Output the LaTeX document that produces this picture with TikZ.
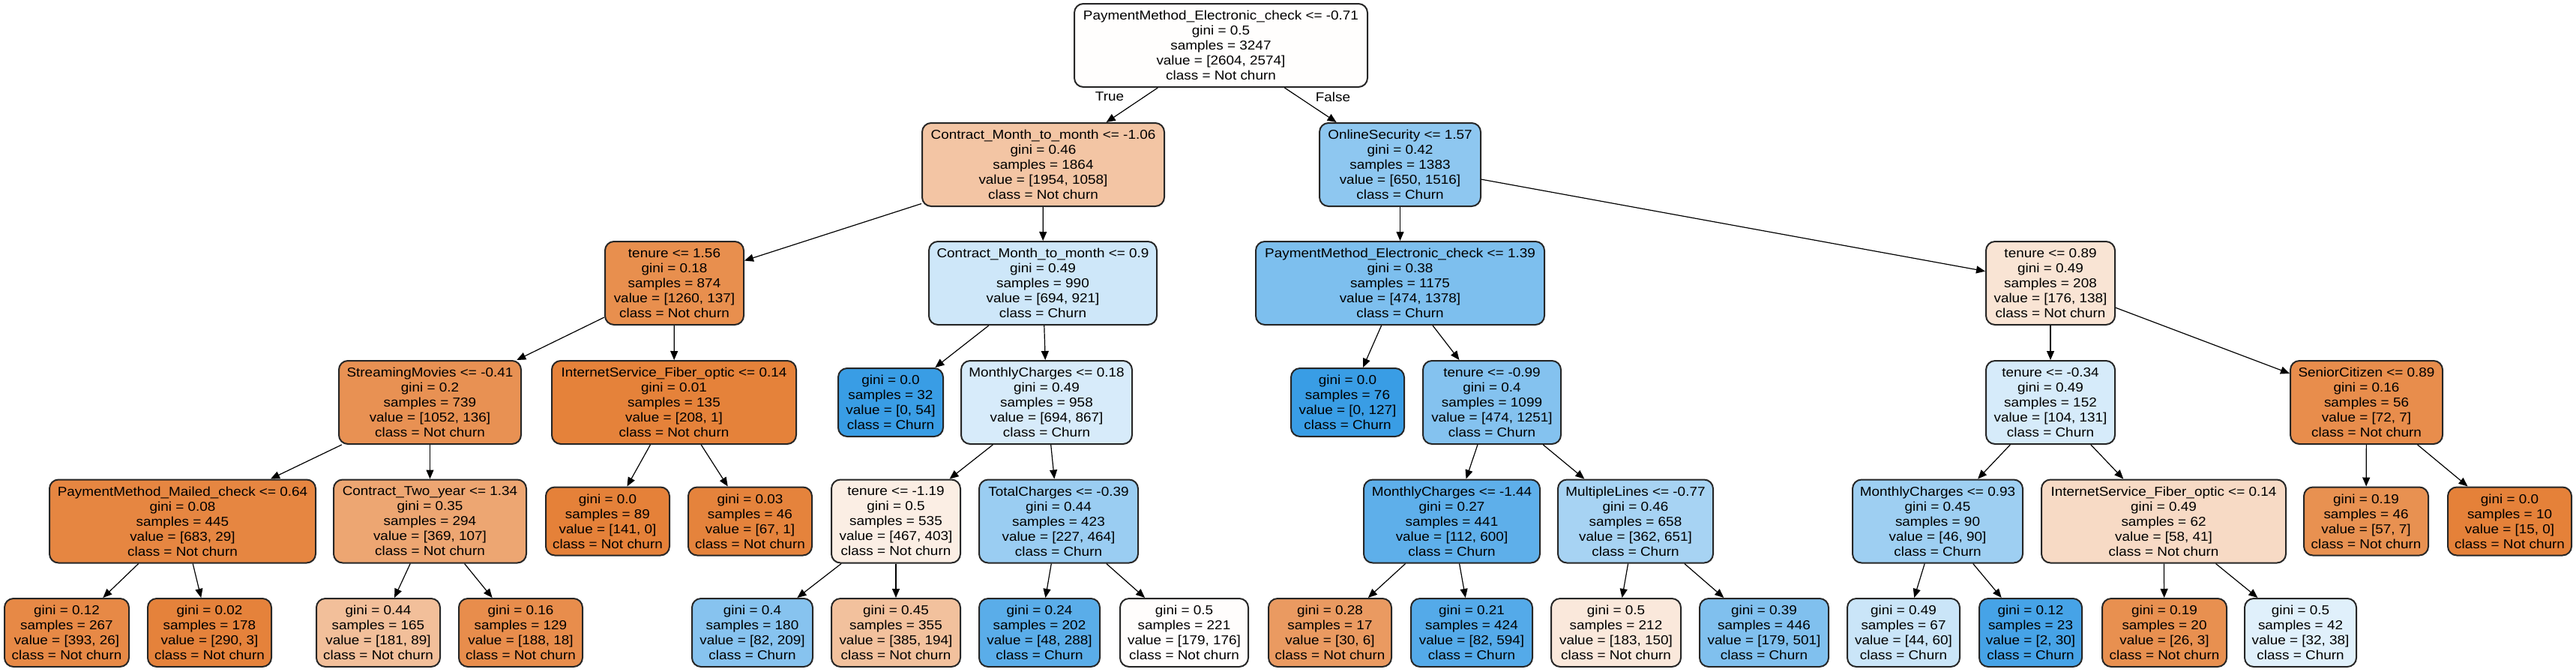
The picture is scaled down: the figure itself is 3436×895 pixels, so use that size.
\documentclass[tikz,border=0pt]{standalone}
\usepackage{fontspec}
\setmainfont{Liberation Sans}[FakeStretch=1.1]
\usetikzlibrary{arrows.meta}
\tikzset{
  tn/.style={draw=black!85, line width=1pt, rounded corners=6pt, inner sep=0pt,
    align=center, minimum height=55.5pt, font=\fontsize{8.6}{10}\selectfont},
  lf/.style={tn, minimum height=45.5pt},
  ed/.style={draw=black, line width=0.6pt, -{Triangle[length=6pt,width=5pt]}},
  lbl/.style={font=\fontsize{8.6}{10}\selectfont, inner sep=0pt}
}
\newcommand{\rgbc}[3]{rgb,255:red,#1;green,#2;blue,#3}
\begin{document}
\begin{tikzpicture}[x=0.5pt,y=-0.5pt]
\useasboundingbox (0,0) rectangle (3436,895);
% root
\node[tn, minimum width=195.5pt, fill={\rgbc{255}{254}{253}}] (n0) at (1628.5,60.5) {PaymentMethod\_Electronic\_check <= -0.71\\gini = 0.5\\samples = 3247\\value = [2604, 2574]\\class = Not churn};
% level 1
\node[tn, minimum width=161.5pt, fill={\rgbc{243}{197}{164}}] (n1) at (1391.5,219.5) {Contract\_Month\_to\_month <= -1.06\\gini = 0.46\\samples = 1864\\value = [1954, 1058]\\class = Not churn};
\node[tn, minimum width=107.5pt, fill={\rgbc{142}{199}{240}}] (n2) at (1867.5,219.5) {OnlineSecurity <= 1.57\\gini = 0.42\\samples = 1383\\value = [650, 1516]\\class = Churn};
% level 2
\node[tn, minimum width=92.5pt, fill={\rgbc{232}{143}{78}}] (n3) at (899.5,377.5) {tenure <= 1.56\\gini = 0.18\\samples = 874\\value = [1260, 137]\\class = Not churn};
\node[tn, minimum width=152pt, fill={\rgbc{206}{231}{249}}] (n4) at (1391,377.5) {Contract\_Month\_to\_month <= 0.9\\gini = 0.49\\samples = 990\\value = [694, 921]\\class = Churn};
\node[tn, minimum width=192.5pt, fill={\rgbc{125}{191}{238}}] (n5) at (1867.5,377.5) {PaymentMethod\_Electronic\_check <= 1.39\\gini = 0.38\\samples = 1175\\value = [474, 1378]\\class = Churn};
\node[tn, minimum width=86pt, fill={\rgbc{249}{228}{212}}] (n6) at (2735,377.5) {tenure <= 0.89\\gini = 0.49\\samples = 208\\value = [176, 138]\\class = Not churn};
% level 3
\node[tn, minimum width=121.5pt, fill={\rgbc{232}{145}{83}}] (n7) at (573.5,536.5) {StreamingMovies <= -0.41\\gini = 0.2\\samples = 739\\value = [1052, 136]\\class = Not churn};
\node[tn, minimum width=163pt, fill={\rgbc{229}{130}{58}}] (n8) at (899,536.5) {InternetService\_Fiber\_optic <= 0.14\\gini = 0.01\\samples = 135\\value = [208, 1]\\class = Not churn};
\node[lf, minimum width=70pt, fill={\rgbc{57}{157}{229}}] (n9) at (1188,536.5) {gini = 0.0\\samples = 32\\value = [0, 54]\\class = Churn};
\node[tn, minimum width=114pt, fill={\rgbc{215}{235}{250}}] (n10) at (1396,536.5) {MonthlyCharges <= 0.18\\gini = 0.49\\samples = 958\\value = [694, 867]\\class = Churn};
\node[lf, minimum width=75.5pt, fill={\rgbc{57}{157}{229}}] (n11) at (1797.5,536.5) {gini = 0.0\\samples = 76\\value = [0, 127]\\class = Churn};
\node[tn, minimum width=92pt, fill={\rgbc{132}{194}{239}}] (n12) at (1990,536.5) {tenure <= -0.99\\gini = 0.4\\samples = 1099\\value = [474, 1251]\\class = Churn};
\node[tn, minimum width=86pt, fill={\rgbc{214}{235}{250}}] (n13) at (2735,536.5) {tenure <= -0.34\\gini = 0.49\\samples = 152\\value = [104, 131]\\class = Churn};
\node[tn, minimum width=101.5pt, fill={\rgbc{232}{141}{76}}] (n14) at (3156.5,536.5) {SeniorCitizen <= 0.89\\gini = 0.16\\samples = 56\\value = [72, 7]\\class = Not churn};
% level 4
\node[tn, minimum width=177.5pt, fill={\rgbc{230}{134}{65}}] (n15) at (243.5,695) {PaymentMethod\_Mailed\_check <= 0.64\\gini = 0.08\\samples = 445\\value = [683, 29]\\class = Not churn};
\node[tn, minimum width=128.5pt, fill={\rgbc{237}{166}{114}}] (n16) at (573.5,695) {Contract\_Two\_year <= 1.34\\gini = 0.35\\samples = 294\\value = [369, 107]\\class = Not churn};
\node[lf, minimum width=82.5pt, fill={\rgbc{229}{129}{57}}] (n17) at (810.5,695) {gini = 0.0\\samples = 89\\value = [141, 0]\\class = Not churn};
\node[lf, minimum width=82.5pt, fill={\rgbc{229}{131}{60}}] (n18) at (1000.5,695) {gini = 0.03\\samples = 46\\value = [67, 1]\\class = Not churn};
\node[tn, minimum width=86pt, fill={\rgbc{251}{238}{228}}] (n19) at (1195,695) {tenure <= -1.19\\gini = 0.5\\samples = 535\\value = [467, 403]\\class = Not churn};
\node[tn, minimum width=106pt, fill={\rgbc{154}{205}{242}}] (n20) at (1412,695) {TotalCharges <= -0.39\\gini = 0.44\\samples = 423\\value = [227, 464]\\class = Churn};
\node[tn, minimum width=117.5pt, fill={\rgbc{94}{175}{234}}] (n21) at (1936.5,695) {MonthlyCharges <= -1.44\\gini = 0.27\\samples = 441\\value = [112, 600]\\class = Churn};
\node[tn, minimum width=103.5pt, fill={\rgbc{167}{211}{243}}] (n22) at (2181.5,695) {MultipleLines <= -0.77\\gini = 0.46\\samples = 658\\value = [362, 651]\\class = Churn};
\node[tn, minimum width=113.5pt, fill={\rgbc{158}{207}{242}}] (n23) at (2584.5,695) {MonthlyCharges <= 0.93\\gini = 0.45\\samples = 90\\value = [46, 90]\\class = Churn};
\node[tn, minimum width=163pt, fill={\rgbc{247}{218}{197}}] (n24) at (2886,695) {InternetService\_Fiber\_optic <= 0.14\\gini = 0.49\\samples = 62\\value = [58, 41]\\class = Not churn};
\node[lf, minimum width=83pt, fill={\rgbc{232}{145}{81}}] (n25) at (3156,695) {gini = 0.19\\samples = 46\\value = [57, 7]\\class = Not churn};
\node[lf, minimum width=82.5pt, fill={\rgbc{229}{129}{57}}] (n26) at (3347.5,695) {gini = 0.0\\samples = 10\\value = [15, 0]\\class = Not churn};
% level 5
\node[lf, minimum width=83pt, fill={\rgbc{231}{137}{70}}] (n27) at (89,843.5) {gini = 0.12\\samples = 267\\value = [393, 26]\\class = Not churn};
\node[lf, minimum width=82.5pt, fill={\rgbc{229}{130}{59}}] (n28) at (279.5,843.5) {gini = 0.02\\samples = 178\\value = [290, 3]\\class = Not churn};
\node[lf, minimum width=82.5pt, fill={\rgbc{242}{191}{154}}] (n29) at (504.5,843.5) {gini = 0.44\\samples = 165\\value = [181, 89]\\class = Not churn};
\node[lf, minimum width=82.5pt, fill={\rgbc{232}{141}{76}}] (n30) at (694.5,843.5) {gini = 0.16\\samples = 129\\value = [188, 18]\\class = Not churn};
\node[lf, minimum width=80.5pt, fill={\rgbc{135}{195}{239}}] (n31) at (1003.5,843.5) {gini = 0.4\\samples = 180\\value = [82, 209]\\class = Churn};
\node[lf, minimum width=86pt, fill={\rgbc{242}{193}{157}}] (n32) at (1195,843.5) {gini = 0.45\\samples = 355\\value = [385, 194]\\class = Not churn};
\node[lf, minimum width=80.5pt, fill={\rgbc{90}{173}{233}}] (n33) at (1386.5,843.5) {gini = 0.24\\samples = 202\\value = [48, 288]\\class = Churn};
\node[lf, minimum width=85.5pt, fill={\rgbc{255}{253}{252}}] (n34) at (1579.5,843.5) {gini = 0.5\\samples = 221\\value = [179, 176]\\class = Not churn};
\node[lf, minimum width=82pt, fill={\rgbc{234}{154}{97}}] (n35) at (1774,843.5) {gini = 0.28\\samples = 17\\value = [30, 6]\\class = Not churn};
\node[lf, minimum width=81pt, fill={\rgbc{84}{170}{233}}] (n36) at (1963,843.5) {gini = 0.21\\samples = 424\\value = [82, 594]\\class = Churn};
\node[lf, minimum width=86.5pt, fill={\rgbc{250}{232}{219}}] (n37) at (2155.5,843.5) {gini = 0.5\\samples = 212\\value = [183, 150]\\class = Not churn};
\node[lf, minimum width=86pt, fill={\rgbc{128}{192}{238}}] (n38) at (2353,843.5) {gini = 0.39\\samples = 446\\value = [179, 501]\\class = Churn};
\node[lf, minimum width=75pt, fill={\rgbc{202}{229}{248}}] (n39) at (2539,843.5) {gini = 0.49\\samples = 67\\value = [44, 60]\\class = Churn};
\node[lf, minimum width=68.5pt, fill={\rgbc{70}{163}{231}}] (n40) at (2708.5,843.5) {gini = 0.12\\samples = 23\\value = [2, 30]\\class = Churn};
\node[lf, minimum width=83pt, fill={\rgbc{232}{144}{80}}] (n41) at (2887,843.5) {gini = 0.19\\samples = 20\\value = [26, 3]\\class = Not churn};
\node[lf, minimum width=74.5pt, fill={\rgbc{224}{240}{251}}] (n42) at (3068.5,843.5) {gini = 0.5\\samples = 42\\value = [32, 38]\\class = Churn};
% edges
\draw[ed] (n0) -- (n1);
\draw[ed] (n0) -- (n2);
\draw[ed] (n1) -- (n3);
\draw[ed] (n1) -- (n4);
\draw[ed] (n2) -- (n5);
\draw[ed] (n2) -- (n6);
\draw[ed] (n3) -- (n7);
\draw[ed] (n3) -- (n8);
\draw[ed] (n4) -- (n9);
\draw[ed] (n4) -- (n10);
\draw[ed] (n5) -- (n11);
\draw[ed] (n5) -- (n12);
\draw[ed] (n6) -- (n13);
\draw[ed] (n6) -- (n14);
\draw[ed] (n7) -- (n15);
\draw[ed] (n7) -- (n16);
\draw[ed] (n8) -- (n17);
\draw[ed] (n8) -- (n18);
\draw[ed] (n10) -- (n19);
\draw[ed] (n10) -- (n20);
\draw[ed] (n12) -- (n21);
\draw[ed] (n12) -- (n22);
\draw[ed] (n13) -- (n23);
\draw[ed] (n13) -- (n24);
\draw[ed] (n14) -- (n25);
\draw[ed] (n14) -- (n26);
\draw[ed] (n15) -- (n27);
\draw[ed] (n15) -- (n28);
\draw[ed] (n16) -- (n29);
\draw[ed] (n16) -- (n30);
\draw[ed] (n19) -- (n31);
\draw[ed] (n19) -- (n32);
\draw[ed] (n20) -- (n33);
\draw[ed] (n20) -- (n34);
\draw[ed] (n21) -- (n35);
\draw[ed] (n21) -- (n36);
\draw[ed] (n22) -- (n37);
\draw[ed] (n22) -- (n38);
\draw[ed] (n23) -- (n39);
\draw[ed] (n23) -- (n40);
\draw[ed] (n24) -- (n41);
\draw[ed] (n24) -- (n42);
% edge labels
\node[lbl] (ltrue) at (1480,129) {True};
\node[lbl] (lfalse) at (1778,129) {False};
\end{tikzpicture}
\end{document}
